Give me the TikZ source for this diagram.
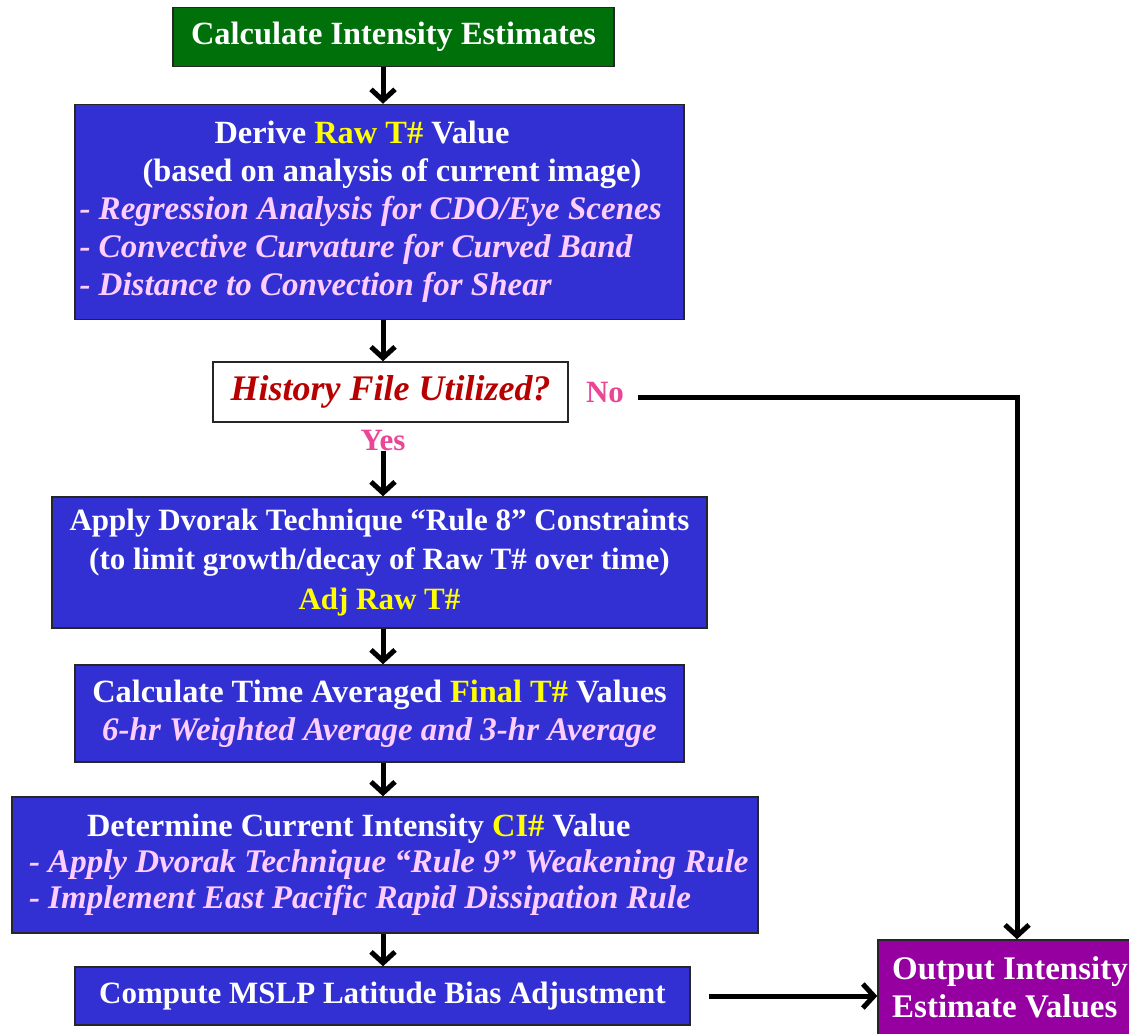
\documentclass[tikz,border=0pt]{standalone}
\usepackage{fontspec}
\setmainfont{Liberation Serif}
\usetikzlibrary{positioning,arrows.meta}
\definecolor{ceGreen}{RGB}{0,112,10}
\definecolor{ceBlue}{RGB}{50,48,210}
\definecolor{cePurple}{RGB}{150,0,160}
\definecolor{cePink}{RGB}{255,205,255}
\definecolor{ceYellow}{RGB}{255,255,0}
\definecolor{ceRed}{RGB}{185,0,0}
\definecolor{ceMagenta}{RGB}{235,70,150}

\tikzset{
  stepbox/.style={draw=black!85, line width=1.5pt, text=white, inner sep=0pt,
    font=\bfseries\fontsize{32.4}{38}\selectfont},
  flow/.style={line width=5pt, -{Straight Barb[length=11pt,width=24pt]}},
  answer/.style={text=ceMagenta, inner sep=0pt, font=\bfseries\fontsize{31}{36}\selectfont},
}
\newcommand{\hl}[1]{\textcolor{ceYellow}{#1}}
\newcommand{\sub}[1]{{\color{cePink}\itshape\fontsize{33}{38}\selectfont #1}}
\newcommand{\flushrow}[2]{\makebox[#1][l]{#2}}

\begin{document}
\begin{tikzpicture}[x=1pt,y=-1pt]
  \useasboundingbox[fill=white] (0,0) rectangle (1129,1033);
  \coordinate (spine) at (383,0);

  % main chain of steps
  \node[stepbox, fill=ceGreen, minimum width=441pt, minimum height=59pt] (calc) at (393.5,37)
    {Calculate Intensity Estimates};

  \node[stepbox, fill=ceBlue, minimum width=609pt, minimum height=215pt, align=center] (raw) at (379.5,212)
    {\flushrow{600pt}{\hspace*{135pt}Derive \hl{Raw T\#} Value}\\
     \flushrow{600pt}{\hspace*{63pt}(based on analysis of current image)}\\
     \flushrow{600pt}{\sub{- Regression Analysis for CDO/Eye Scenes}}\\
     \flushrow{600pt}{\sub{- Convective Curvature for Curved Band}}\\
     \flushrow{600pt}{\sub{- Distance to Convection for Shear}}};

  \node[stepbox, fill=white, minimum width=355pt, minimum height=60pt,
        text=ceRed, font=\bfseries\itshape\fontsize{36}{38}\selectfont] (hist) at (390.5,392)
    {History File Utilized?};
  \node[answer] (no) at (605,392) {No};
  \node[answer] (yes) at (383,440) {Yes};

  \node[stepbox, fill=ceBlue, minimum width=655pt, minimum height=131pt, align=center,
        font=\bfseries\fontsize{31}{39.5}\selectfont] (rule8) at (379.5,562.5)
    {Apply Dvorak Technique “Rule 8” Constraints\\
     (to limit growth/decay of Raw T\# over time)\\
     \hl{Adj Raw T\#}};

  \node[stepbox, fill=ceBlue, minimum width=609pt, minimum height=97pt, align=center] (final) at (379.5,713.5)
    {Calculate Time Averaged \hl{Final T\#} Values\\
     \sub{6-hr Weighted Average and 3-hr Average}};

  \node[stepbox, fill=ceBlue, minimum width=746pt, minimum height=136pt, align=center,
        font=\bfseries\fontsize{32.4}{36}\selectfont] (ci) at (385,865)
    {\flushrow{712pt}{\hspace*{58pt}Determine Current Intensity \hl{CI\#} Value}\\
     \flushrow{712pt}{\sub{- Apply Dvorak Technique “Rule 9” Weakening Rule}}\\
     \flushrow{712pt}{\sub{- Implement East Pacific Rapid Dissipation Rule}}};

  \node[stepbox, fill=ceBlue, minimum width=615pt, minimum height=58pt,
        font=\bfseries\fontsize{31}{38}\selectfont] (mslp) at (382.5,996)
    {Compute MSLP Latitude Bias Adjustment};

  \node[stepbox, fill=cePurple, minimum width=264pt, minimum height=95pt, align=left,
        font=\bfseries\fontsize{33}{38}\selectfont] (out) at (1010,987.5)
    {Output Intensity\\ Estimate Values};

  % connectors
  \draw[flow] (calc.south -| spine) -- (raw.north -| spine);
  \draw[flow] (raw.south -| spine) -- (hist.north -| spine);
  \draw[flow] (yes.south -| spine) -- (rule8.north -| spine);
  \draw[flow] (rule8.south -| spine) -- (final.north -| spine);
  \draw[flow] (final.south -| spine) -- (ci.north -| spine);
  \draw[flow] (ci.south -| spine) -- (mslp.north -| spine);
  \coordinate (bend) at (1017,397);
  \draw[flow] (no.east) ++(14,5) -- (bend) -- (bend |- out.north);
  \draw[flow] (mslp.east) ++(18,0) -- (mslp.east -| out.west);
\end{tikzpicture}
\end{document}
